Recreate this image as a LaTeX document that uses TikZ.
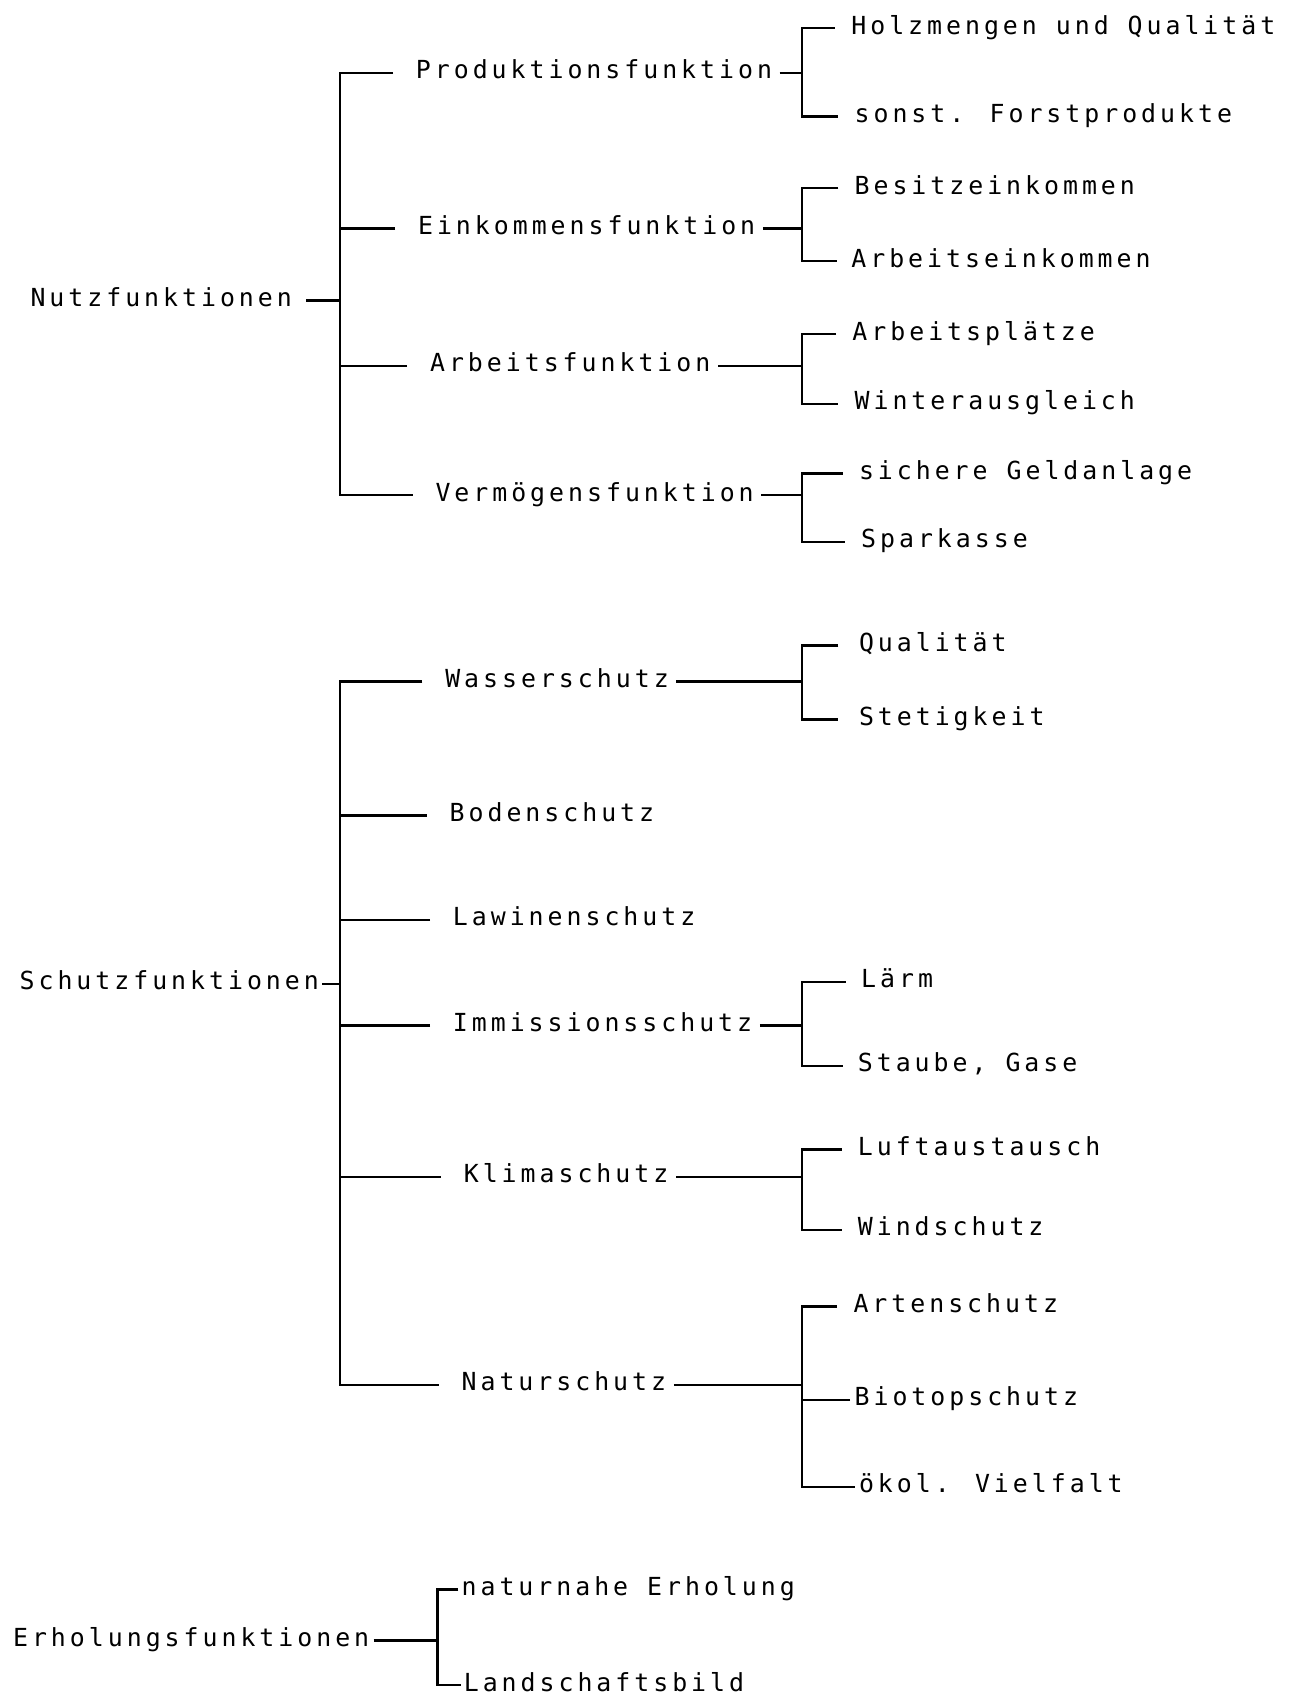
\documentclass[tikz,border=0pt]{standalone}
\usepackage{fontspec}
\newfontfamily\printer{DejaVu Sans Mono}[LetterSpace=16]

\begin{document}
\begin{tikzpicture}
    [x=0.1mm, y=-0.1mm, line width=0.6pt,
    every node/.style={anchor=west, inner sep=0pt,
      font=\printer\fontsize{6.5}{8}\selectfont,
      text height=1.5ex, text depth=0.8ex}]
    \useasboundingbox (0,0) rectangle (1195,1568);
    % x of the stems and brackets
    \coordinate (ka) at (312,0);
    \coordinate (kb) at (737,0);
    \coordinate (eb) at (402,0);

    % Nutzfunktionen
    \node (nutz) at (27,276) {Nutzfunktionen};
    \node (prod) at (381,67) {Produktionsfunktion};
    \node (eink) at (383,210) {Einkommensfunktion};
    \node (arb) at (394,336) {Arbeitsfunktion};
    \node (verm) at (399,455) {Vermögensfunktion};
    \node (holz) at (781,26) {Holzmengen und Qualität};
    \node (sonst) at (784,107) {sonst. Forstprodukte};
    \node (besitz) at (784,173) {Besitzeinkommen};
    \node (arbeink) at (781,240) {Arbeitseinkommen};
    \node (platz) at (782,307) {Arbeitsplätze};
    \node (winter) at (784,371) {Winterausgleich};
    \node (geld) at (788,435) {sichere Geldanlage};
    \node (spar) at (790,498) {Sparkasse};

    \draw ([xshift=1.2mm]nutz.east) -- (nutz -| ka);
    \draw ([xshift=-2mm]prod.west) -| (nutz -| ka) |- ([xshift=-2mm]verm.west);
    \draw ([xshift=-2mm]eink.west) -- (eink -| ka);
    \draw ([xshift=-2mm]arb.west) -- (arb -| ka);

    \draw ([xshift=0.6mm]prod.east) -- (prod -| kb);
    \draw ([xshift=-1.4mm]holz.west) -| (prod -| kb) |- ([xshift=-1.4mm]sonst.west);
    \draw ([xshift=0.6mm]eink.east) -- (eink -| kb);
    \draw ([xshift=-1.4mm]besitz.west) -| (eink -| kb) |- ([xshift=-1.2mm]arbeink.west);
    \draw ([xshift=0.6mm]arb.east) -- (arb -| kb);
    \draw ([xshift=-1.4mm]platz.west) -| (arb -| kb) |- ([xshift=-1.4mm]winter.west);
    \draw ([xshift=0.6mm]verm.east) -- (verm -| kb);
    \draw ([xshift=-1.4mm]geld.west) -| (verm -| kb) |- ([xshift=-1.4mm]spar.west);

    % Schutzfunktionen
    \node (schutz) at (17,904) {Schutzfunktionen};
    \node (wasser) at (408,626) {Wasserschutz};
    \node (boden) at (412,749) {Bodenschutz};
    \node (lawine) at (415,845) {Lawinenschutz};
    \node (immi) at (415,942) {Immissionsschutz};
    \node (klima) at (425,1081) {Klimaschutz};
    \node (natur) at (423,1272) {Naturschutz};
    \node (qual) at (788,593) {Qualität};
    \node (stetig) at (788,661) {Stetigkeit};
    \node (laerm) at (790,902) {Lärm};
    \node (staub) at (787,979) {Staube, Gase};
    \node (luft) at (787,1056) {Luftaustausch};
    \node (wind) at (787,1130) {Windschutz};
    \node (art) at (783,1200) {Artenschutz};
    \node (bio) at (784,1286) {Biotopschutz};
    \node (oekol) at (788,1366) {ökol. Vielfalt};

    \draw ([xshift=0.2mm]schutz.east) -- (schutz -| ka);
    \draw ([xshift=-2mm]wasser.west) -| (schutz -| ka) |- ([xshift=-2mm]natur.west);
    \draw ([xshift=-2mm]boden.west) -- (boden -| ka);
    \draw ([xshift=-2mm]lawine.west) -- (lawine -| ka);
    \draw ([xshift=-2mm]immi.west) -- (immi -| ka);
    \draw ([xshift=-2mm]klima.west) -- (klima -| ka);

    \draw ([xshift=0.6mm]wasser.east) -- (wasser -| kb);
    \draw ([xshift=-1.8mm]qual.west) -| (wasser -| kb) |- ([xshift=-1.8mm]stetig.west);
    \draw ([xshift=0.6mm]immi.east) -- (immi -| kb);
    \draw ([xshift=-1.3mm]laerm.west) -| (immi -| kb) |- ([xshift=-1.3mm]staub.west);
    \draw ([xshift=0.6mm]klima.east) -- (klima -| kb);
    \draw ([xshift=-1.4mm]luft.west) -| (klima -| kb) |- ([xshift=-1.4mm]wind.west);
    \draw ([xshift=0.6mm]natur.east) -- (natur -| kb);
    \draw ([xshift=-1.4mm]art.west) -| (natur -| kb) |- ([xshift=-0.3mm]oekol.west);
    \draw ([xshift=-0.3mm]bio.west) -- (bio -| kb);

    % Erholungsfunktionen
    \node (erh) at (11,1507) {Erholungsfunktionen};
    \node (natn) at (423,1460) {naturnahe Erholung};
    \node (land) at (425,1548) {Landschaftsbild};

    \draw ([xshift=0.3mm]erh.east) -- (erh -| eb);
    \draw ([xshift=-0.2mm]natn.west) -| (erh -| eb) |- ([xshift=-0.2mm]land.west);
  \end{tikzpicture}
\end{document}
